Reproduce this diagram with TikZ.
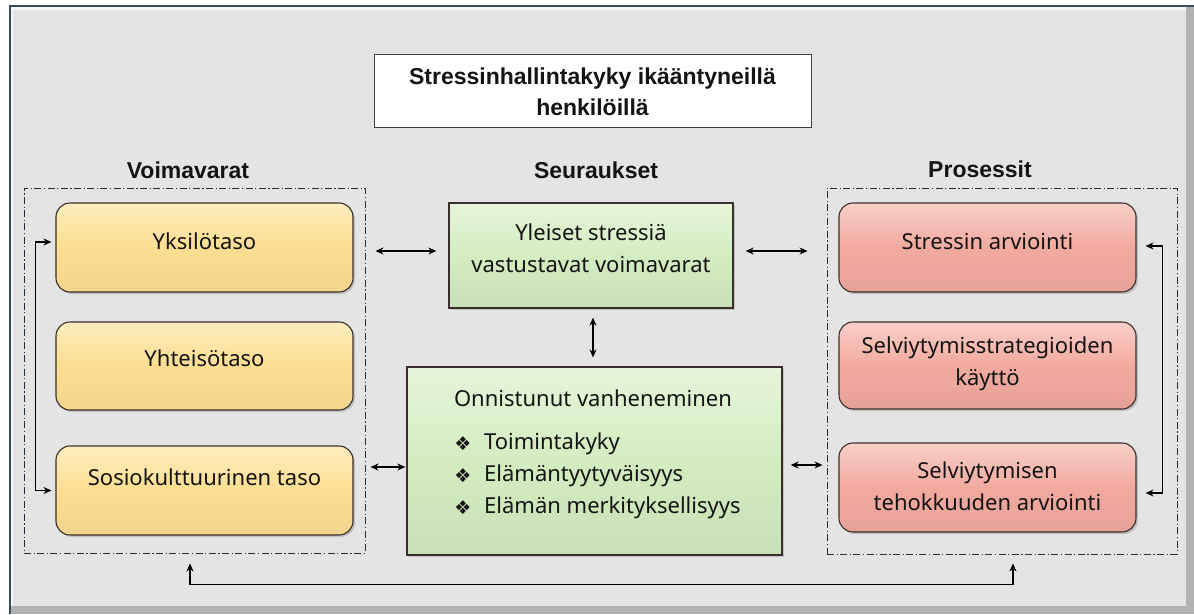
\documentclass[tikz,border=0pt]{standalone}
\usepackage{fontspec}
\setmainfont{Noto Sans}
\newfontfamily\symfont{DejaVu Sans}
\newfontfamily\headfont{Liberation Sans}
\usetikzlibrary{arrows.meta,calc,shadows}
\definecolor{framebg}{HTML}{E4E4E4}
\definecolor{frameedge}{HTML}{3C4A5C}
\definecolor{yelfill}{HTML}{FCDE92}
\definecolor{yeltop}{HTML}{FFEDBE}
\definecolor{redfill}{HTML}{F2AA9F}
\definecolor{redtop}{HTML}{F9CFC8}
\definecolor{grnfill}{HTML}{D3ECC0}
\definecolor{grntop}{HTML}{E6F5DA}
\definecolor{boxedge}{HTML}{3A2E2A}
\definecolor{dashcol}{HTML}{1F3040}
\tikzset{
  every node/.style={font=\fontsize{22}{32}\selectfont, text=black!92},
  yelbox/.style={draw=boxedge, line width=1.1pt, rounded corners=14pt, top color=yeltop, bottom color=yelfill!96!black, middle color=yelfill, minimum width=297pt, minimum height=89pt, drop shadow={shadow xshift=2pt,shadow yshift=-2pt,opacity=0.35}},
  redbox/.style={draw=boxedge, line width=1.1pt, rounded corners=14pt, top color=redtop, bottom color=redfill!95!black, middle color=redfill, minimum width=297pt, minimum height=89pt, drop shadow={shadow xshift=2pt,shadow yshift=-2pt,opacity=0.35}},
  grnbox/.style={draw=boxedge, line width=1.3pt, top color=grntop, bottom color=grnfill!95!black, middle color=grnfill, drop shadow={shadow xshift=2pt,shadow yshift=-2pt,opacity=0.35}},
  groupbox/.style={draw=dashcol, line width=0.9pt, dash pattern=on 7pt off 2.5pt on 1.2pt off 2.5pt},
  heading/.style={font=\headfont\fontsize{23}{31}\selectfont\bfseries},
  txt/.style={align=center, inner sep=0pt},
  bullet/.style={inner sep=0pt, font=\symfont\fontsize{19}{20}\selectfont},
  arr/.style={{Stealth[length=8pt,width=7pt]}-{Stealth[length=8pt,width=7pt]}, line width=1.2pt, black},
}
\begin{document}
\begin{tikzpicture}[x=1pt,y=-1pt]
\useasboundingbox (0,0) rectangle (1194,614);
% frame
\fill[white] (0,0) rectangle (1194,614);
\fill[gray!60] (10,6) rectangle (1194,614);
\fill[white!92!gray] (10,6) rectangle (1186,606);
\fill[framebg] (13,10) rectangle (1186,606);
\draw[frameedge, line width=1.2pt] (10,614) -- (10,6) -- (1194,6);
% title
\node[draw=black!75, fill=white, line width=0.8pt, minimum width=437pt, minimum height=73pt] (title) at (592.5,90.5) {};
\node[txt, heading] (titletxt) at (592.5,92) {Stressinhallintakyky ikääntyneillä\\henkilöillä};
% headings
\node[heading, inner sep=0pt] (hv) at (188,170) {Voimavarat};
\node[heading, inner sep=0pt] (hs) at (596,170) {Seuraukset};
\node[heading, inner sep=0pt] (hp) at (980,169) {Prosessit};
% group boxes
\node[groupbox, minimum width=341pt, minimum height=365pt] (lbox) at (194.5,370.5) {};
\node[groupbox, minimum width=350pt, minimum height=366pt] (rbox) at (1002,371) {};
% yellow
\node[yelbox] (y1) at (204.5,247.5) {};
\node[yelbox, minimum height=88pt] (y2) at (204.5,366) {};
\node[yelbox] (y3) at (204.5,490.5) {};
\node[txt] at (204.5,241) {Yksilötaso};
\node[txt] at (204.5,358) {Yhteisötaso};
\node[txt] at (204.5,477) {Sosiokulttuurinen taso};
% red
\node[redbox] (r1) at (987.5,247.5) {};
\node[redbox, minimum height=87pt] (r2) at (987.5,365.5) {};
\node[redbox] (r3) at (987.5,487.5) {};
\node[txt] at (987.5,241) {Stressin arviointi};
\node[txt] at (987.5,364) {Selviytymisstrategioiden\\käyttö};
\node[txt] at (987.5,486) {Selviytymisen\\tehokkuuden arviointi};
% green
\node[grnbox, minimum width=284pt, minimum height=105pt] (g1) at (591,255.5) {};
\node[txt] at (591,248) {Yleiset stressiä\\vastustavat voimavarat};
\node[grnbox, minimum width=375pt, minimum height=188pt] (g2) at (594.5,461) {};
\node[txt] (g2t) at (593,398) {Onnistunut vanheneminen};
\node[txt, anchor=west] (b1) at (484,444) {Toimintakyky};
\node[txt, anchor=west] (b2) at (484,476) {Elämäntyytyväisyys};
\node[txt, anchor=west] (b3) at (484,508) {Elämän merkityksellisyys};
\node[bullet] at (463,444) {❖};
\node[bullet] at (463,476) {❖};
\node[bullet] at (463,508) {❖};
% arrows
\draw[arr] ([xshift=10pt,yshift=4.5pt]lbox.east |- g1.west) -- ([xshift=-12pt,yshift=4.5pt]g1.west);
\draw[arr] ([xshift=12pt,yshift=4.5pt]g1.east) -- ([xshift=-19pt,yshift=4.5pt]rbox.west |- g1.east);
\draw[arr] ([xshift=2pt,yshift=-9pt]g1.south) -- ([xshift=-1.5pt,yshift=9pt]g2.north);
\draw[arr] ([xshift=5pt,yshift=-6pt]lbox.east |- g2.west) -- ([xshift=-1pt,yshift=-6pt]g2.west);
\draw[arr] ([xshift=8pt,yshift=-4pt]g2.east) -- ([xshift=-4pt,yshift=-4pt]rbox.west |- g2.east);
\draw[arr] ([xshift=-4pt,yshift=5.5pt]y1.west) -- ++(-16,0) |- ([xshift=-4pt]y3.west);
\draw[arr] ([xshift=9pt,yshift=1.5pt]r1.east) -- ++(17,0) |- ([xshift=9pt,yshift=-5.5pt]r3.east);
\draw[arr] ([xshift=-4.5pt,yshift=-10pt]lbox.south) -- ++(0,21) -| ([xshift=11pt,yshift=-9pt]rbox.south);
\end{tikzpicture}
\end{document}
